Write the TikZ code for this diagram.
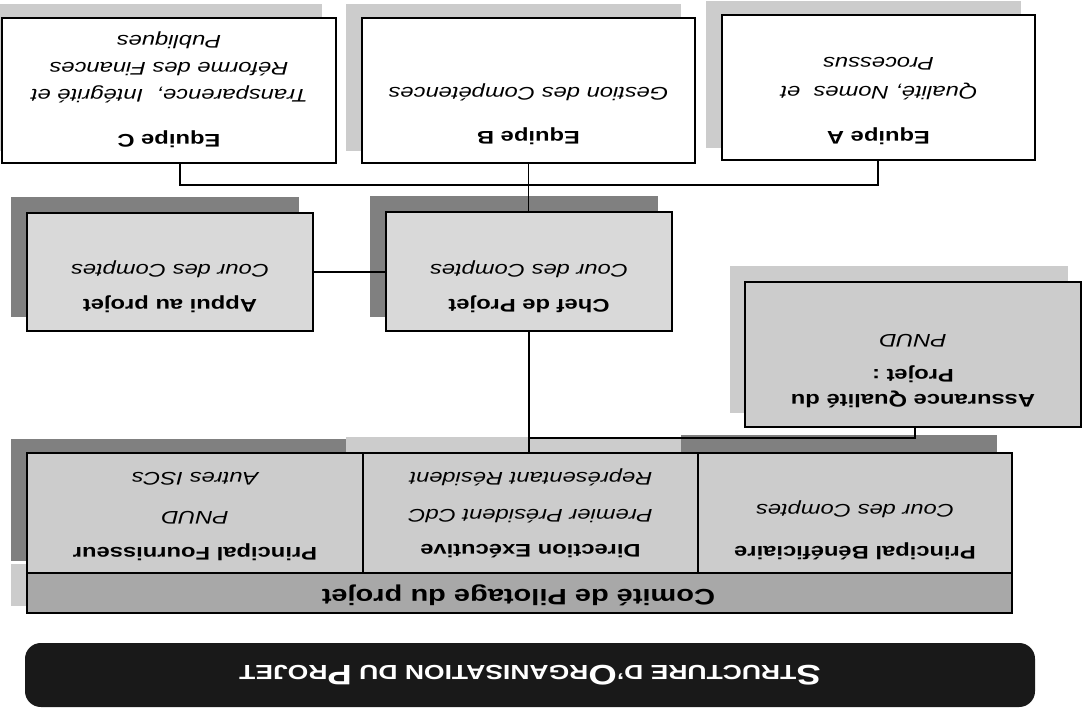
\documentclass[tikz,border=0pt]{standalone}
\usepackage{fontspec}
\setmainfont{Liberation Sans}[FakeStretch=1.3]
\usetikzlibrary{backgrounds}
\definecolor{shdark}{gray}{0.50}
\definecolor{shlight}{gray}{0.80}
\definecolor{fillA}{gray}{0.85}
\definecolor{fillB}{gray}{0.80}
\definecolor{fillC}{gray}{0.66}
\definecolor{titlebg}{gray}{0.10}
\newcommand\mkbox[6]{\node[box,#6,minimum width={(#4-#2)*0.02cm},minimum height={(#5-#3)*0.02cm}] (#1) at ({(#2+#4)/2},{(#3+#5)/2}) {};}
\newcommand\ttlbig[1]{{\fontsize{16}{16}\selectfont #1}}
\newcommand\ttlsmall[1]{{\fontsize{11.6}{16}\selectfont #1}}
\begin{document}
\begin{tikzpicture}[x=0.02cm,y=-0.02cm,
  box/.style={draw,line width=1.2pt,inner sep=0pt},
  txt/.style={rotate=180,inner sep=0pt,align=center,font=\fontsize{10.4}{15.4}\selectfont},
  conn/.style={line width=1.1pt},
  shd/.style={fill=shdark},
  shl/.style={fill=shlight}]
\useasboundingbox (0,0) rectangle (1084,722);

% boxes
\mkbox{eqC}{2}{18}{336}{163}{fill=white}
\mkbox{eqB}{362}{18}{695}{163}{fill=white}
\mkbox{eqA}{722}{15}{1035}{160}{fill=white}
\mkbox{appui}{27}{213}{313}{331}{fill=fillA}
\mkbox{chef}{386}{212}{672}{331}{fill=fillA}
\mkbox{aq}{745}{282}{1081}{427}{fill=fillB}
\mkbox{four}{27}{453}{363}{573}{fill=fillB}
\mkbox{dir}{363}{453}{698}{573}{fill=fillB}
\mkbox{ben}{698}{453}{1012}{573}{fill=fillB}
\mkbox{comite}{27}{573}{1012}{613}{fill=fillC}

% shadows
\begin{pgfonlayer}{background}
\fill[shl] ([shift={(-15,-13)}]eqC.north west) rectangle ([shift={(-15,-13)}]eqC.south east);
\fill[shl] ([shift={(-15,-13)}]eqB.north west) rectangle ([shift={(-15,-13)}]eqB.south east);
\fill[shl] ([shift={(-15,-13)}]eqA.north west) rectangle ([shift={(-15,-13)}]eqA.south east);
\fill[shd] ([shift={(-15,-15)}]appui.north west) rectangle ([shift={(-15,-15)}]appui.south east);
\fill[shd] ([shift={(-15,-15)}]chef.north west) rectangle ([shift={(-15,-15)}]chef.south east);
\fill[shl] ([shift={(-14,-15)}]aq.north west) rectangle ([shift={(-14,-15)}]aq.south east);
\fill[shd] ([shift={(-15,-13)}]four.north west) rectangle ([shift={(-15,-13)}]four.south east);
\fill[shl] ([shift={(-16,-15)}]dir.north west) rectangle ([shift={(-16,-15)}]dir.south east);
\fill[shd] ([shift={(-16,-17)}]ben.north west) rectangle ([shift={(-16,-17)}]ben.south east);
\fill[shl] ([shift={(-15,-8)}]comite.north west) rectangle ([shift={(-15,-8)}]comite.south east);
\end{pgfonlayer}

% texts
\node[txt,anchor=north] (eqCt) at ([shift={(0,-10.5)}]eqC.south)
  {\textbf{\strut Equipe C}\\[10pt]\textit{Transparence,\ \ Intégrité et}\\\textit{Réforme des Finances}\\\textit{Publiques}};
\node[txt,anchor=north] (eqBt) at ([shift={(0,-13.5)}]eqB.south)
  {\textbf{\strut Equipe B}\\[9.6pt]\textit{Gestion des Compétences}};
\node[txt,anchor=north] (eqAt) at ([shift={(0,-10.5)}]eqA.south)
  {\textbf{\strut Equipe A}\\[10pt]\textit{Qualité, Nomes\ \ et}\\[1pt]\textit{Processus}};
\node[txt,anchor=north] (appuit) at ([shift={(0,-13.5)}]appui.south)
  {\textbf{\strut Appui au projet}\\[4.5pt]\textit{Cour des Comptes}};
\node[txt,anchor=north] (cheft) at ([shift={(0,-13.5)}]chef.south)
  {\textbf{\strut Chef de Projet}\\[4.5pt]\textit{Cour des Comptes}};
\node[txt,anchor=north] (aqt) at ([shift={(0,-14.5)}]aq.south)
  {\textbf{\strut Assurance Qualité du}\\[-1.2pt]\textbf{Projet :}\\[4.5pt]\textit{PNUD}};
\node[txt,anchor=north] (fourt) at ([shift={(0,-7.5)}]four.south)
  {\textbf{\strut Principal Fournisseur}\\[5pt]\textit{PNUD}\\[6.8pt]\textit{Autres ISCs}};
\node[txt,anchor=north] (dirt) at ([shift={(0,-10.5)}]dir.south)
  {\textbf{\strut Direction Exécutive}\\[4.5pt]\textit{Premier Président CdC}\\[5.6pt]\textit{Représentant Résident}};
\node[txt,anchor=north] (bent) at ([shift={(0,-8.5)}]ben.south)
  {\textbf{\strut Principal Bénéficiaire}\\[8.5pt]\textit{Cour des Comptes}};
\node[rotate=180,inner sep=0pt,font=\bfseries\fontsize{12.7}{14}\selectfont] (comitet) at ([shift={(-1,2)}]comite.center) {Comité de Pilotage du projet};

% title bar
\node[rotate=180,fill=titlebg,rounded corners=9pt,minimum width={1010*0.02cm},minimum height={64*0.02cm},inner sep=0pt,text=white,font=\bfseries] (title) at (530,675)
  {\ttlbig{S}\ttlsmall{TRUCTURE D’}\ttlbig{O}\ttlsmall{RGANISATION DU }\ttlbig{P}\ttlsmall{ROJET}};

% connectors
\coordinate (jC) at (180,185);
\coordinate (jA) at (878,185);
\coordinate (jQ) at (915,438);
\draw[conn] (eqC.south -| jC) -- (jC) -- (jA) -- (eqA.south -| jA);
\draw[conn] (eqB.south) -- (eqB.south |- chef.north);
\draw[conn] (appui.east) -- (appui.east -| chef.west);
\draw[conn] (chef.south) -- (chef.south |- dir.north);
\draw[conn] (aq.south -| jQ) -- (jQ) -- (chef.south |- jQ);
\end{tikzpicture}
\end{document}
